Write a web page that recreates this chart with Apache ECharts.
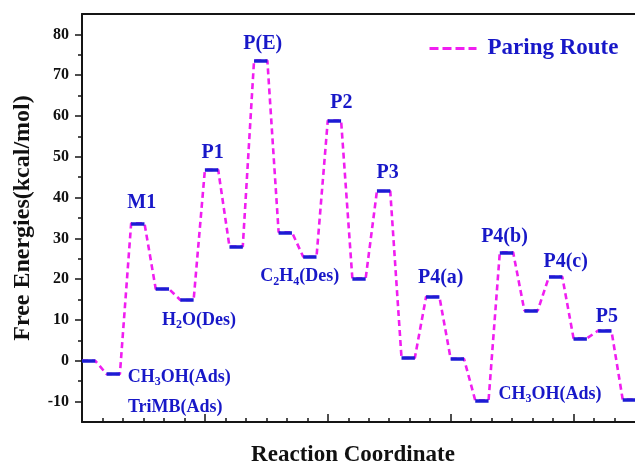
<!DOCTYPE html>
<html>
<head>
<meta charset="utf-8">
<script src="https://cdn.jsdelivr.net/npm/echarts@6/dist/echarts.min.js"></script>
<style>html,body{margin:0;padding:0;background:#fff;}#c{width:635px;height:464px;}</style>
</head>
<body>
<div id="c"></div>
<script>
// ---- data ----
const levelEnergies = [0, -3.25, 33.7, 17.6, 14.9, 46.8, 28.0, 73.6, 31.5, 25.5, 58.9, 20.2, 41.6, 0.7, 15.7, 0.5, -9.7, 26.6, 12.3, 20.6, 5.5, 7.4, -9.5];
const annotationTexts = ['CH3OH(Ads)', 'TriMB(Ads)', 'M1', 'H2O(Des)', 'P1', 'P(E)', 'C2H4(Des)', 'P2', 'P3', 'P4(a)', 'P4(b)', 'P4(c)', 'P5', 'CH3OH(Ads)'];
const annotationLevels = [1, 1, 2, 4, 5, 7, 9, 10, 12, 14, 17, 19, 21, 16];
const yTickLabels = [-10, 0, 10, 20, 30, 40, 50, 60, 70, 80];
const seriesName = 'Paring Route';

// ---- layout / style ----
const STEP = 1.2, W = 0.65;
const annotationOffsets = [[66, 3], [62, 33], [4, -20], [12, 20], [1, -17], [2, -17], [-10, 20], [7, -18], [4, -18], [8, -19], [-2, -15], [10, -15], [2, -14], [68, -6]];
const FONT = "'Liberation Serif','Times New Roman',serif";
const BLUE = '#1c1cd4', MAG = '#f01ef0', TXTBLUE = '#1818c8';

const routeData = [];
const levelLines = [];
levelEnergies.forEach((e, i) => {
  const s = i * STEP;
  routeData.push([s, e], [s + W, e]);
  levelLines.push({ coords: [[s, e], [s + W, e]] });
});

function richText(t) {
  const m = t.match(/^([A-Za-z0-9]+)(\(.*\))$/);
  if (m && /[A-Z][a-z]?\d/.test(m[1]) && !/^P\d/.test(m[1])) {
    let out = '';
    m[1].split(/(\d)/).forEach(p => { if (!p) return; out += /^\d$/.test(p) ? '{s|' + p + '}' : '{n|' + p + '}'; });
    out += '{n|' + m[2] + '}';
    return out;
  }
  return t;
}
const annData = annotationTexts.map((t, k) => {
  const i = annotationLevels[k];
  const big = /^(M1|P)/.test(t);
  return {
    value: [i * STEP + W / 2, levelEnergies[i]],
    label: {
      show: true, position: 'inside', offset: annotationOffsets[k], opacity: 1,
      formatter: richText(t),
      color: TXTBLUE, fontFamily: FONT, fontWeight: 'bold', fontSize: big ? 20 : 18,
      rich: {
        n: { color: TXTBLUE, fontFamily: FONT, fontWeight: 'bold', fontSize: 18 },
        s: { color: TXTBLUE, fontFamily: FONT, fontWeight: 'bold', fontSize: 12, padding: [10, 0, 0, 0] }
      }
    }
  };
});

const XMAX = 27;
const majorX = [6, 12, 18, 24];
const minorX = [];
for (let v = 1; v < XMAX; v++) if (v % 6 !== 0) minorX.push(v);
const minorY = [];
for (let v = -5; v <= 75; v += 10) minorY.push(v);

const chart = echarts.init(document.getElementById('c'), null, { renderer: 'canvas' });
const axisCol = '#151515';
chart.setOption({
  animation: false,
  backgroundColor: '#fff',
  grid: { left: 82, top: 14, right: 0, bottom: 42, containLabel: false, outerBoundsMode: 'none' },
  legend: {
    data: [seriesName], left: 428, top: 37, padding: 0, orient: 'horizontal', itemWidth: 47, itemHeight: 14,
    itemStyle: { opacity: 0 },
    lineStyle: { type: [9, 4], width: 3, color: MAG },
    textStyle: { color: TXTBLUE, fontFamily: FONT, fontWeight: 'bold', fontSize: 23, padding: [0, 0, 0, 6] }
  },
  xAxis: [
    { type: 'value', min: 0, max: XMAX, position: 'bottom',
      axisLine: { show: true, onZero: false, lineStyle: { color: axisCol, width: 2 } },
      axisTick: { show: true, inside: true, length: 8, customValues: majorX, lineStyle: { color: axisCol, width: 1.5 } },
      axisLabel: { show: false }, splitLine: { show: false } },
    { type: 'value', min: 0, max: XMAX, position: 'bottom',
      axisLine: { show: false, onZero: false },
      axisTick: { show: true, inside: true, length: 4, customValues: minorX, lineStyle: { color: axisCol, width: 1.5 } },
      axisLabel: { show: false }, splitLine: { show: false } },
    { type: 'value', min: 0, max: XMAX, position: 'top',
      axisLine: { show: true, onZero: false, lineStyle: { color: axisCol, width: 2 } },
      axisTick: { show: false }, axisLabel: { show: false }, splitLine: { show: false } }
  ],
  yAxis: [
    { type: 'value', min: -15, max: 85, position: 'left',
      name: 'Free Energies(kcal/mol)', nameLocation: 'middle', nameGap: 47,
      nameTextStyle: { color: '#111', fontFamily: FONT, fontWeight: 'bold', fontSize: 24 },
      axisLine: { show: true, onZero: false, lineStyle: { color: axisCol, width: 2 } },
      axisTick: { show: true, inside: false, length: 7, customValues: yTickLabels, lineStyle: { color: axisCol, width: 1.5 } },
      axisLabel: { show: true, customValues: yTickLabels, margin: 13, color: '#111', fontFamily: FONT, fontWeight: 'bold', fontSize: 16 },
      splitLine: { show: false } },
    { type: 'value', min: -15, max: 85, position: 'left',
      axisLine: { show: false, onZero: false },
      axisTick: { show: true, inside: false, length: 4, customValues: minorY, lineStyle: { color: axisCol, width: 1.5 } },
      axisLabel: { show: false }, splitLine: { show: false } }
  ],
  graphic: [{
    type: 'text', x: 353, y: 455,
    style: { text: 'Reaction Coordinate', textAlign: 'center', textVerticalAlign: 'middle',
      font: "bold 23px 'Liberation Serif','Times New Roman',serif", fill: '#111' }
  }],
  series: [
    { name: seriesName, type: 'line', data: routeData, symbol: 'none', showSymbol: false,
      lineStyle: { color: MAG, width: 2.6, type: [6, 4] }, itemStyle: { color: MAG }, z: 2 },
    { name: 'levels', type: 'lines', coordinateSystem: 'cartesian2d', data: levelLines,
      lineStyle: { color: BLUE, width: 3.5, opacity: 1 }, z: 3 },
    { name: 'annotations', type: 'scatter', data: annData, symbolSize: 1,
      itemStyle: { color: 'rgba(0,0,0,0)', opacity: 1 }, z: 4, silent: true }
  ]
});
</script>
</body>
</html>
